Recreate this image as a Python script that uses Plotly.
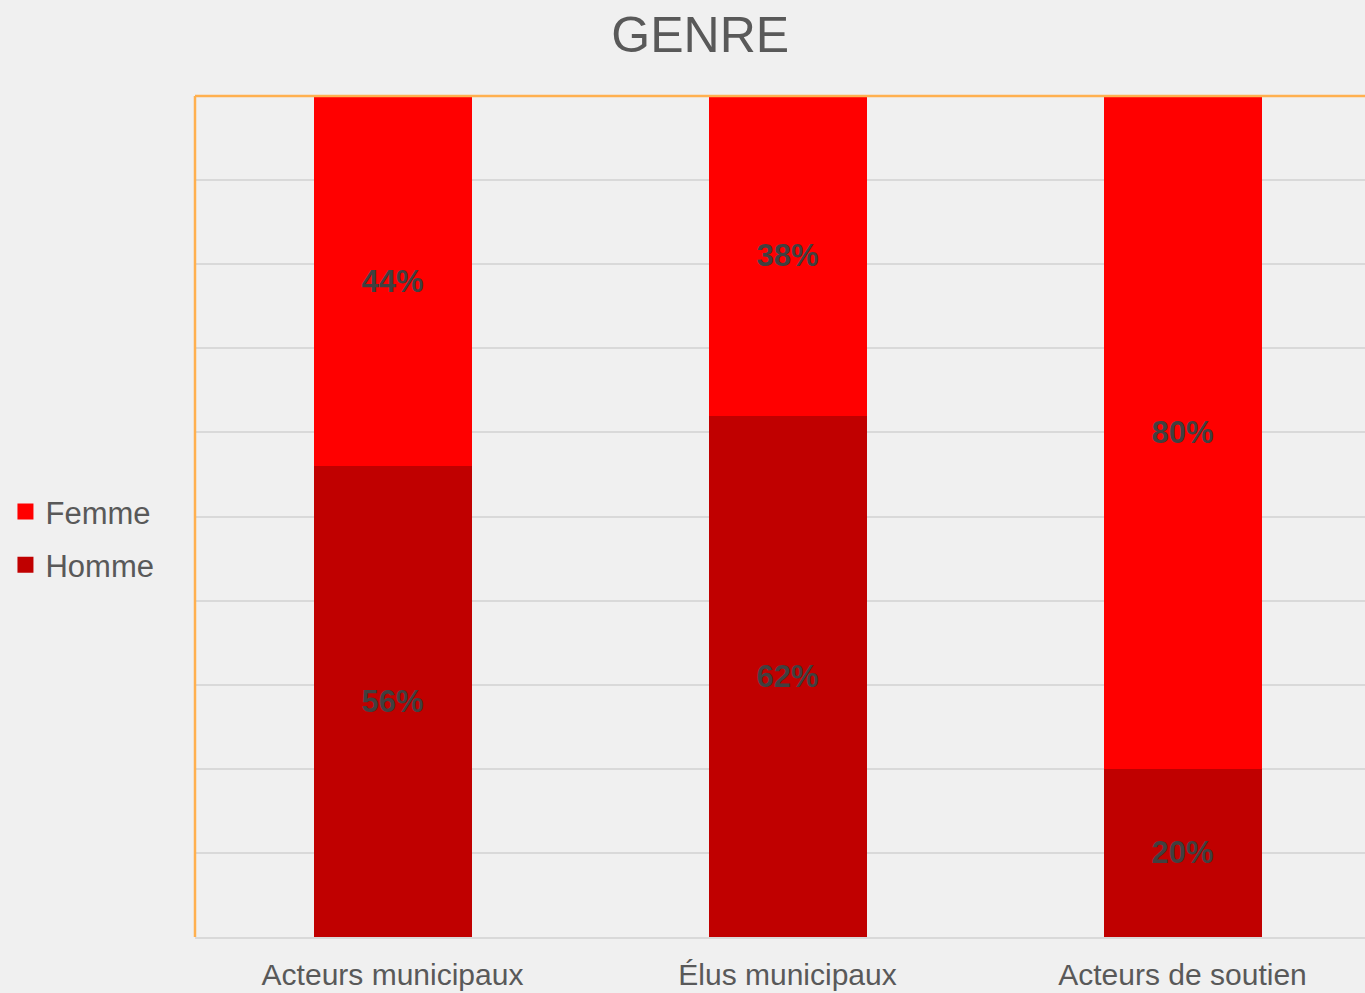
import plotly.graph_objects as go

categories = ["Acteurs municipaux", "Élus municipaux", "Acteurs de soutien"]
homme = [0.56, 0.62, 0.20]
femme = [0.44, 0.38, 0.80]

FONT = "Liberation Sans, Arial, sans-serif"
TEXT_GREY = "#595959"
LABEL_GREY = "#404040"
HOMME_RED = "#C00000"
FEMME_RED = "#FF0000"

fig = go.Figure()

fig.add_trace(go.Bar(
    x=categories,
    y=homme,
    name="Homme",
    marker=dict(color=HOMME_RED, line=dict(width=0)),
    text=[f"{v:.0%}" for v in homme],
    textposition="inside",
    insidetextanchor="middle",
    textangle=0,
    textfont=dict(family=FONT, size=31, color=LABEL_GREY, weight="bold"),
    width=0.4,
    showlegend=False,
    hoverinfo="skip",
))

fig.add_trace(go.Bar(
    x=categories,
    y=femme,
    name="Femme",
    marker=dict(color=FEMME_RED, line=dict(width=0)),
    text=[f"{v:.0%}" for v in femme],
    textposition="inside",
    insidetextanchor="middle",
    textangle=0,
    textfont=dict(family=FONT, size=31, color=LABEL_GREY, weight="bold"),
    width=0.4,
    showlegend=False,
    hoverinfo="skip",
))

# legend entries with bigger square swatches
for rank, (name, color) in enumerate([("Femme", FEMME_RED), ("Homme", HOMME_RED)]):
    fig.add_trace(go.Scatter(
        x=[None], y=[None],
        mode="markers",
        name=name,
        marker=dict(symbol="square", size=16, color=color),
        legendgroup=name,
        legendrank=rank + 1,
        hoverinfo="skip",
    ))

# orange border on top and left of the plot area
fig.add_shape(type="line", xref="paper", yref="paper", x0=0, x1=1, y0=1, y1=1,
              line=dict(color="#FFB04F", width=2.5), layer="above")
fig.add_shape(type="line", xref="paper", yref="paper", x0=0, x1=0, y0=0, y1=1,
              line=dict(color="#FFB04F", width=2.5), layer="above")

fig.update_layout(
    barmode="stack",
    width=1365,
    height=993,
    margin=dict(l=195, r=0, t=96, b=56),
    paper_bgcolor="#F0F0F0",
    plot_bgcolor="#F0F0F0",
    font=dict(family=FONT, color=TEXT_GREY),
    title=dict(text="GENRE", x=0.513, xref="container", xanchor="center",
               y=0.965, yanchor="middle",
               font=dict(family=FONT, size=50, color=TEXT_GREY)),
    legend=dict(
        x=-0.162, xanchor="left",
        y=0.474, yanchor="middle",
        font=dict(family=FONT, size=31, color=TEXT_GREY),
        bgcolor="rgba(0,0,0,0)",
        traceorder="grouped",
        tracegroupgap=10,
        itemclick=False,
    ),
    xaxis=dict(
        range=[-0.5, 2.462],
        showgrid=False,
        showline=True,
        linecolor="#D9D9D9",
        linewidth=2,
        ticks="",
        tickfont=dict(family=FONT, size=30, color=TEXT_GREY),
        ticklabelstandoff=10,
    ),
    yaxis=dict(
        range=[0, 1],
        dtick=0.1,
        showgrid=True,
        gridcolor="#D9D9D9",
        gridwidth=1.5,
        showticklabels=False,
        zeroline=False,
        ticks="",
    ),
)

fig.write_html(
    "out.html",
    config={"displayModeBar": False},
    post_script="document.body.style.margin='0';",
)
